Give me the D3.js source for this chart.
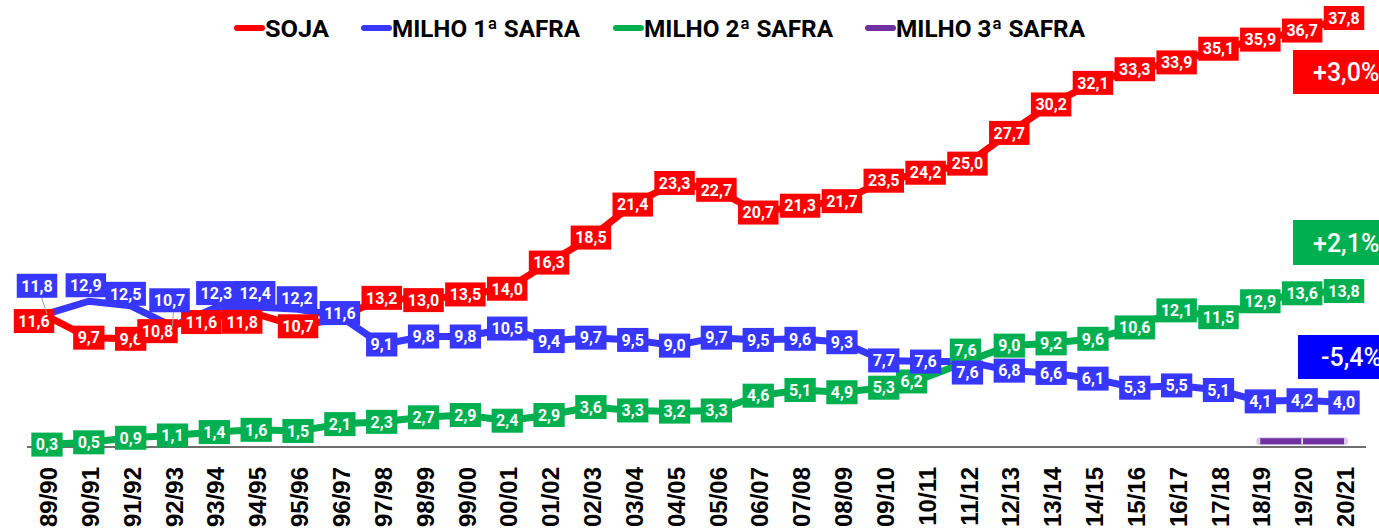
<!DOCTYPE html>
<html>
<head>
<meta charset="utf-8">
<script src="https://cdn.jsdelivr.net/npm/d3@7"></script>
<style>
  html, body { margin: 0; padding: 0; background: #fff; }
  svg { display: block; }
</style>
</head>
<body>
<svg id="chart" width="1379" height="532"></svg>
<script>
const categories = ["89/90","90/91","91/92","92/93","93/94","94/95","95/96","96/97","97/98","98/99","99/00","00/01","01/02","02/03","03/04","04/05","05/06","06/07","07/08","08/09","09/10","10/11","11/12","12/13","13/14","14/15","15/16","16/17","17/18","18/19","19/20","20/21"];
const soja   = [11.6,9.7,9.6,10.8,11.6,11.8,10.7,11.4,13.2,13.0,13.5,14.0,16.3,18.5,21.4,23.3,22.7,20.7,21.3,21.7,23.5,24.2,25.0,27.7,30.2,32.1,33.3,33.9,35.1,35.9,36.7,37.8];
const milho1 = [11.8,12.9,12.5,10.7,12.3,12.4,12.2,11.6,9.1,9.8,9.8,10.5,9.4,9.7,9.5,9.0,9.7,9.5,9.6,9.3,7.7,7.6,7.6,6.8,6.6,6.1,5.3,5.5,5.1,4.1,4.2,4.0];
const milho2 = [0.3,0.5,0.9,1.1,1.4,1.6,1.5,2.1,2.3,2.7,2.9,2.4,2.9,3.6,3.3,3.2,3.3,4.6,5.1,4.9,5.3,6.2,7.6,9.0,9.2,9.6,10.6,12.1,11.5,12.9,13.6,13.8];
const milho3 = [null,null,null,null,null,null,null,null,null,null,null,null,null,null,null,null,null,null,null,null,null,null,null,null,null,null,null,null,null,0.6,0.6,0.6];
const seriesNames = ["SOJA","MILHO 1ª SAFRA","MILHO 2ª SAFRA","MILHO 3ª SAFRA"];
const growthLabels = ["+3,0%","+2,1%","-5,4%"];

const colors = { soja: "#FF0000", milho1: "#3737FF", milho2: "#00B050", milho3: "#7030A0" };
const fmt = v => v.toFixed(1).replace(".", ",");

const svg = d3.select("#chart");
const x = d3.scalePoint().domain(categories).range([47, 1344]);
const y = d3.scaleLinear().domain([0, 40]).range([448, -7]);

// axis
const axisG = svg.append("g").attr("transform", "translate(0,447)");
axisG.call(d3.axisBottom(x).tickSize(0).tickPadding(0));
axisG.select(".domain").attr("stroke", "#6e6e6e").attr("stroke-width", 2)
  .attr("d", "M27,0H1366");
axisG.selectAll(".tick text").remove();
axisG.selectAll(".tick").append("text")
  .attr("transform", "rotate(-90)")
  .attr("x", -20).attr("y", 1)
  .attr("dy", "0.36em")
  .attr("text-anchor", "end")
  .attr("fill", "#000")
  .style("font-family", "'Liberation Sans', Arial, sans-serif")
  .style("font-weight", "bold")
  .style("font-size", "24px")
  .text(d => d);

const line = d3.line().defined(d => d.v != null).x(d => x(d.c)).y(d => y(d.v));
const toPts = arr => arr.map((v, i) => ({ c: categories[i], v, i }));

const series = [
  { key: "milho1", data: milho1, w: 7 },
  { key: "milho2", data: milho2, w: 7 },
  { key: "soja", data: soja, w: 7 }
];
series.forEach(s => {
  svg.append("path").datum(toPts(s.data))
    .attr("d", line).attr("fill", "none")
    .attr("stroke", colors[s.key]).attr("stroke-width", s.w)
    .attr("stroke-linejoin", "round");
});

// milho 3a safra
const m3 = toPts(milho3);
svg.append("path").datum(m3).attr("d", line).attr("fill", "none")
  .attr("stroke", "#d9c8e8").attr("stroke-width", 8).attr("stroke-linecap", "round");
svg.append("path").datum(m3).attr("d", line).attr("fill", "none")
  .attr("stroke", colors.milho3).attr("stroke-width", 6).attr("stroke-linecap", "butt");
m3.filter((d, i) => d.v != null && i > 29 && i < 31).forEach(d => {
  svg.append("line").attr("x1", x(d.c)).attr("x2", x(d.c))
    .attr("y1", y(d.v) - 3).attr("y2", y(d.v) + 3)
    .attr("stroke", "#fff").attr("stroke-width", 1.5);
});

// label nudges (dx, dy) for crowded points
const nudges = {
  soja: { 0: [-13, 5], 3: [-15, 6], 4: [-13, 6], 5: [-14, 8] },
  milho1: { 0: [-10, -28], 1: [-3, -16], 2: [-5, -12], 3: [-3, -26], 4: [2, -15], 5: [-1, -14], 6: [-1, -11], 7: [0, -3], 22: [0, 11] },
  milho2: { 21: [-14, 4], 22: [-2, -11] }
};

function drawLabels(key, data, skip) {
  const g = svg.append("g");
  data.forEach((v, i) => {
    if (v == null || (skip && skip.includes(i))) return;
    const nd = (nudges[key] && nudges[key][i]) || [0, 0];
    const px = x(categories[i]), py = y(v);
    const cx = px + nd[0], cy = py + nd[1];
    if (Math.abs(nd[1]) > 20) {
      g.append("line").attr("x1", cx + 4).attr("y1", cy + 10)
        .attr("x2", px).attr("y2", py)
        .attr("stroke", "#a0a0a0").attr("stroke-width", 1);
    }
    const t = g.append("text")
      .attr("x", cx).attr("y", cy).attr("dy", "0.36em")
      .attr("text-anchor", "middle").attr("fill", "#fff")
      .style("font-family", "Roboto, sans-serif").style("font-weight", "bold")
      .style("font-size", "16px").text(fmt(v));
    const w = t.node().getComputedTextLength() + 9;
    g.insert("rect", function () { return t.node(); })
      .attr("x", cx - w / 2).attr("y", cy - 12).attr("width", w).attr("height", 24)
      .attr("fill", colors[key]);
  });
}
drawLabels("soja", soja, [7]);
drawLabels("milho2", milho2);
drawLabels("milho1", milho1);

// growth badges
const badges = [
  { text: growthLabels[0], color: "#FF0000", x: 1293, y: 50, h: 44, tx: 1313 },
  { text: growthLabels[1], color: "#00B050", x: 1293, y: 220, h: 45, tx: 1313 },
  { text: growthLabels[2], color: "#0000FF", x: 1298, y: 335, h: 44, tx: 1321 }
];
badges.forEach(b => {
  svg.append("rect").attr("x", b.x).attr("y", b.y).attr("width", 100).attr("height", b.h).attr("fill", b.color);
  svg.append("text").attr("x", b.tx).attr("y", b.y + b.h / 2).attr("dy", "0.36em")
    .attr("fill", "#fff").style("font-family", "Roboto, sans-serif")
    .style("font-weight", "500").style("font-size", "25px").text(b.text);
});

// legend
const legendItems = [
  { name: seriesNames[0], color: colors.soja, mx: 237, tx: 265, tw: 64 },
  { name: seriesNames[1], color: colors.milho1, mx: 364, tx: 392, tw: 188 },
  { name: seriesNames[2], color: colors.milho2, mx: 616, tx: 644, tw: 189 },
  { name: seriesNames[3], color: colors.milho3, mx: 868, tx: 896, tw: 189 }
];
legendItems.forEach(l => {
  svg.append("line").attr("x1", l.mx).attr("x2", l.mx + 25).attr("y1", 28).attr("y2", 28)
    .attr("stroke", l.color).attr("stroke-width", 6).attr("stroke-linecap", "round");
  svg.append("text").attr("x", l.tx).attr("y", 28).attr("dy", "0.36em")
    .attr("fill", "#000").attr("textLength", l.tw).attr("lengthAdjust", "spacingAndGlyphs")
    .style("font-family", "Roboto, sans-serif").style("font-weight", "bold")
    .style("font-size", "24px").text(l.name);
});
</script>
</body>
</html>
